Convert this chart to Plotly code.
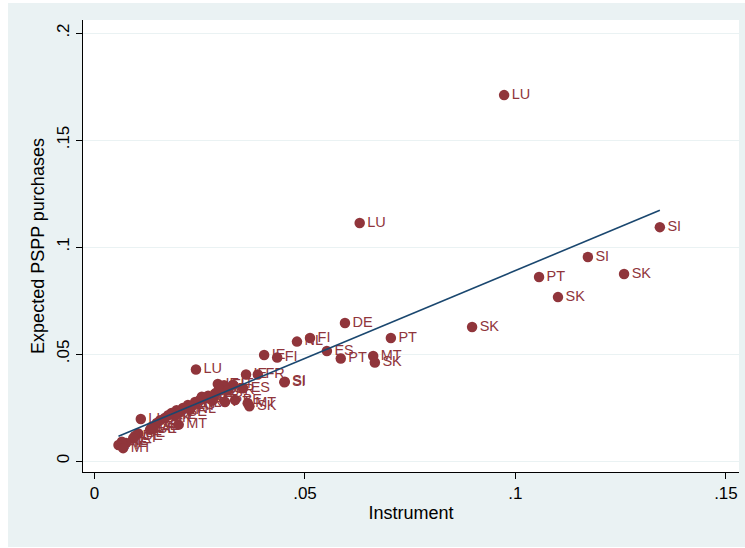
import numpy as np
import plotly.graph_objects as go

# Data (instrument, expected PSPP purchases, country label)
instrument = [
    0.0973, 0.0630, 0.1343, 0.1172, 0.1258, 0.1056, 0.1101, 0.0897, 0.0595, 0.0704,
    0.0512, 0.0481, 0.0552, 0.0662, 0.0585, 0.0666, 0.0403, 0.0434, 0.0241, 0.0360,
    0.0388, 0.0452, 0.0451,
    0.0293, 0.0308, 0.0329, 0.0296, 0.0317, 0.0353, 0.0262, 0.0281, 0.0310, 0.0334,
    0.0364, 0.0368,
    0.0251, 0.0239, 0.0222, 0.0210, 0.0227, 0.0195, 0.0203, 0.0183, 0.0191, 0.0175,
    0.0167, 0.0110, 0.0156, 0.0200, 0.0148, 0.0136, 0.0132, 0.0140,
    0.0104, 0.0096, 0.0092, 0.0075, 0.0065, 0.0057, 0.0068,
    0.0270, 0.0255, 0.0288, 0.0240, 0.0230,
]
expected = [
    0.1710, 0.1112, 0.1093, 0.0953, 0.0874, 0.0860, 0.0766, 0.0626, 0.0645, 0.0575,
    0.0575, 0.0558, 0.0514, 0.0491, 0.0479, 0.0460, 0.0495, 0.0484, 0.0428, 0.0404,
    0.0404, 0.0370, 0.0368,
    0.0360, 0.0354, 0.0356, 0.0336, 0.0331, 0.0340, 0.0294, 0.0285, 0.0276, 0.0285,
    0.0270, 0.0256,
    0.0286, 0.0276, 0.0262, 0.0248, 0.0240, 0.0237, 0.0228, 0.0224, 0.0211, 0.0214,
    0.0201, 0.0196, 0.0191, 0.0170, 0.0178, 0.0160, 0.0146, 0.0150,
    0.0129, 0.0117, 0.0106, 0.0084, 0.0090, 0.0075, 0.0060,
    0.0305, 0.0300, 0.0318, 0.0268, 0.0255,
]
country = [
    "LU", "LU", "SI", "SI", "SK", "PT", "SK", "SK", "DE", "PT",
    "FI", "NL", "ES", "MT", "PT", "SK", "IE", "FI", "LU", "IE",
    "FR", "SI", "SI",
    "IE", "FI", "IT", "DE", "FR", "ES", "NL", "AT", "PT", "BE",
    "MT", "SK",
    "DE", "FR", "ES", "IT", "NL", "AT", "BE", "FI", "IE", "PT",
    "SK", "LU", "SI", "MT", "ES", "DE", "BE", "AT",
    "BE", "DE", "AT", "IE", "NL", "FI", "MT",
    "FR", "IT", "ES", "NL", "AT",
]

x_tick_vals = [0, 0.05, 0.1, 0.15]
x_tick_text = ["0", ".05", ".1", ".15"]
y_tick_vals = [0, 0.05, 0.1, 0.15, 0.2]
y_tick_text = ["0", ".05", ".1", ".15", ".2"]

# Linear fit (as Stata's lfit)
xa = np.array(instrument)
ya = np.array(expected)
slope, intercept = np.polyfit(xa, ya, 1)
fit_x = np.array([xa.min(), xa.max()])
fit_y = intercept + slope * fit_x

MAROON = "#90353B"
NAVY = "#1A476F"
BG = "#EAF2F3"
FONT = "Liberation Sans, Arial, sans-serif"

fig = go.Figure()
fig.add_trace(go.Scatter(
    x=instrument, y=expected, text=country,
    mode="markers+text", textposition="middle right",
    marker=dict(color=MAROON, size=10.5, line=dict(width=0)),
    textfont=dict(color=MAROON, size=14.5, family=FONT),
    showlegend=False, cliponaxis=False,
))
fig.add_trace(go.Scatter(
    x=fit_x, y=fit_y, mode="lines",
    line=dict(color=NAVY, width=1.6),
    showlegend=False,
))

W, H = 745, 548
L, R, T, B = 83, 6, 20, 76
pw, ph = W - L - R, H - T - B

def px2paper_x(p):
    return (p - L) / pw

def px2paper_y(p):
    return (H - B - p) / ph

fig.add_shape(type="rect", xref="paper", yref="paper", layer="below",
              x0=px2paper_x(8), x1=px2paper_x(746), y0=px2paper_y(547), y1=px2paper_y(3),
              fillcolor=BG, line=dict(width=0))
fig.add_shape(type="rect", xref="paper", yref="paper", layer="below",
              x0=0, x1=1, y0=0, y1=1,
              fillcolor="white", line=dict(width=0))

fig.update_layout(
    width=W, height=H,
    margin=dict(l=L, r=R, t=T, b=B, pad=0),
    paper_bgcolor="white", plot_bgcolor="rgba(0,0,0,0)",
    font=dict(family=FONT, color="black", size=17),
    xaxis=dict(
        range=[-0.00273, 0.1531], tickvals=x_tick_vals, ticktext=x_tick_text,
        showgrid=False, zeroline=False, showline=True, linecolor="black", linewidth=1,
        ticks="outside", ticklen=6, tickcolor="black", tickwidth=1,
        tickfont=dict(size=17), title=dict(text="Instrument", font=dict(size=18), standoff=3),
    ),
    yaxis=dict(
        range=[-0.00514, 0.2061], tickvals=y_tick_vals, ticktext=y_tick_text,
        showgrid=True, gridcolor=BG, gridwidth=1.2, zeroline=False,
        showline=True, linecolor="black", linewidth=1,
        ticks="outside", ticklen=6, tickcolor="black", tickwidth=1, tickangle=-90,
        tickfont=dict(size=17), title=dict(text="Expected PSPP purchases", font=dict(size=18), standoff=4),
    ),
)

fig.write_html("out.html", config={"displayModeBar": False},
               post_script="document.body.style.margin='0';")
